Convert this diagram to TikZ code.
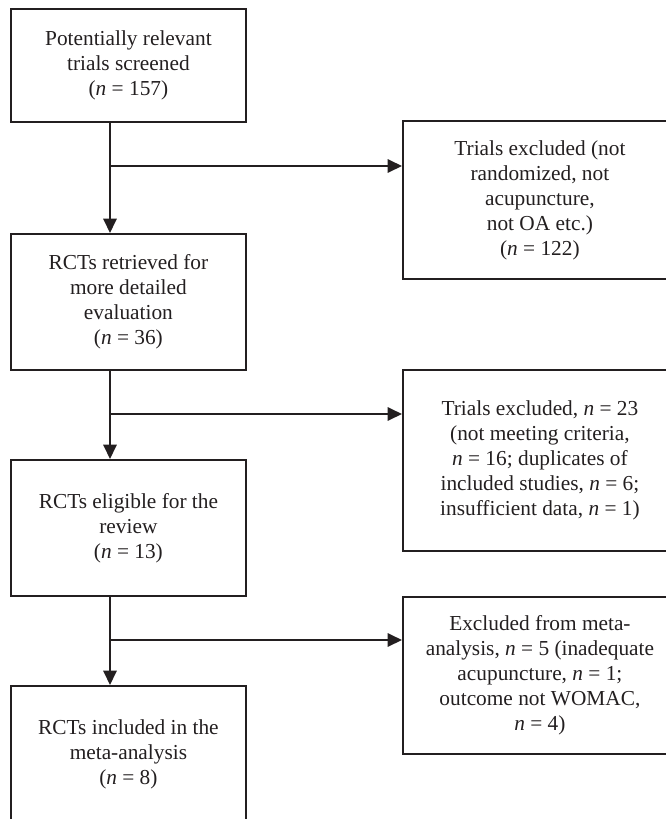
\documentclass[tikz,border=0pt]{standalone}
\usepackage{fontspec}
\setmainfont{Liberation Serif}
\usetikzlibrary{arrows.meta,positioning,calc}
\definecolor{ink}{HTML}{231F20}
\newcommand{\nn}{\textit{n}}
\tikzset{
  flowbox/.style={draw=ink,line width=1.1pt,align=center,anchor=north west,inner sep=0pt,
    font=\fontsize{12.8}{15}\selectfont,text=ink},
  leftbox/.style={flowbox,minimum width=141pt},
  rightbox/.style={flowbox,minimum width=164.4pt},
  link/.style={draw=ink,line width=1.1pt}
}
\begin{document}
\begin{tikzpicture}[x=0.6pt,y=-0.6pt,>={Triangle[length=8.6pt,width=8pt]}]
\path[use as bounding box,clip] (0,0) rectangle (666,819);
% main column
\node[leftbox,minimum height=67.8pt] (screened) at (10,8) {Potentially relevant\\trials screened\\(\nn{} = 157)};
\node[leftbox,minimum height=81.6pt] (retrieved) at (10,233) {RCTs retrieved for\\more detailed\\evaluation\\(\nn{} = 36)};
\node[leftbox,minimum height=81.6pt] (eligible) at (10,459) {RCTs eligible for the\\review\\(\nn{} = 13)};
\node[leftbox,minimum height=81.6pt] (included) at (10,685) {RCTs included in the\\meta-analysis\\(\nn{} = 8)};
% exclusions
\node[rightbox,minimum height=94.8pt] (excl1) at (402,120) {Trials excluded (not\\randomized, not\\acupuncture,\\not OA etc.)\\(\nn{} = 122)};
\node[rightbox,minimum height=108.6pt] (excl2) at (402,369) {Trials excluded, \nn{} = 23\\(not meeting criteria,\\\nn{} = 16; duplicates of\\included studies, \nn{} = 6;\\insufficient data, \nn{} = 1)};
\node[rightbox,minimum height=94.2pt] (excl3) at (402,596) {Excluded from meta-\\analysis, \nn{} = 5 (inadequate\\acupuncture, \nn{} = 1;\\outcome not WOMAC,\\\nn{} = 4)};
% branch points
\coordinate (fork1) at (110,166);
\coordinate (fork2) at (110,414);
\coordinate (fork3) at (110,640);
\draw[link,->] (screened.south -| fork1) -- (retrieved.north -| fork1);
\draw[link,->] (retrieved.south -| fork2) -- (eligible.north -| fork2);
\draw[link,->] (eligible.south -| fork3) -- (included.north -| fork3);
\draw[link,->] (fork1) -- (fork1 -| excl1.west);
\draw[link,->] (fork2) -- (fork2 -| excl2.west);
\draw[link,->] (fork3) -- (fork3 -| excl3.west);
\end{tikzpicture}
\end{document}
